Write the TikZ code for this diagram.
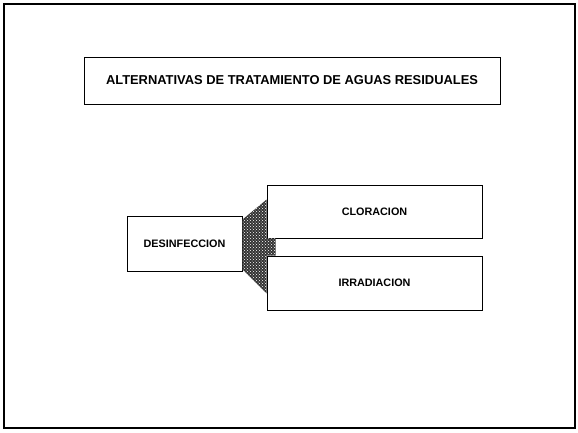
\documentclass[tikz,border=0pt]{standalone}
\usepackage{fontspec}
\setmainfont{Liberation Sans}
\usetikzlibrary{calc,patterns}
\begin{document}
\begin{tikzpicture}[x=1pt,y=-1pt,
  box/.style={draw=black,line width=0.9pt,rectangle,inner sep=0pt,font=\bfseries},
  small/.style={font=\bfseries\fontsize{10.8}{12}\selectfont},
  linkfill/.style={fill=black!80}]
\useasboundingbox (0,0) rectangle (578,432);
\draw[line width=1.2pt] (4,4) rectangle (575,428);
\node[box,minimum width=416pt,minimum height=47pt,font=\bfseries\fontsize{12.9}{14}\selectfont] (title) at (292,80.5) {ALTERNATIVAS DE TRATAMIENTO DE AGUAS RESIDUALES};
\node[box,small,minimum width=115pt,minimum height=55pt] (desin) at (184.5,243.5) {DESINFECCION};
\node[box,small,minimum width=215pt,minimum height=53pt] (clor) at (374.5,211.5) {CLORACION};
\node[box,small,minimum width=215pt,minimum height=54pt] (irrad) at (374.5,283) {IRRADIACION};
\coordinate (m1) at ($(clor.south west)+(9,0)$);
\coordinate (m2) at ($(irrad.north west)+(9,0)$);
\path[linkfill] ($(desin.north east)+(0,4)$) -- ($(clor.north west)+(0,15)$) -- (clor.south west) -- (m1) -- (m2) -- (irrad.north west) -- ($(irrad.south west)+(0,-17)$) -- ($(desin.south east)+(0,-2)$) -- cycle;
\path[pattern=crosshatch dots,pattern color=white] ($(desin.north east)+(0,4)$) -- ($(clor.north west)+(0,15)$) -- (clor.south west) -- (m1) -- (m2) -- (irrad.north west) -- ($(irrad.south west)+(0,-17)$) -- ($(desin.south east)+(0,-2)$) -- cycle;
\end{tikzpicture}
\end{document}
